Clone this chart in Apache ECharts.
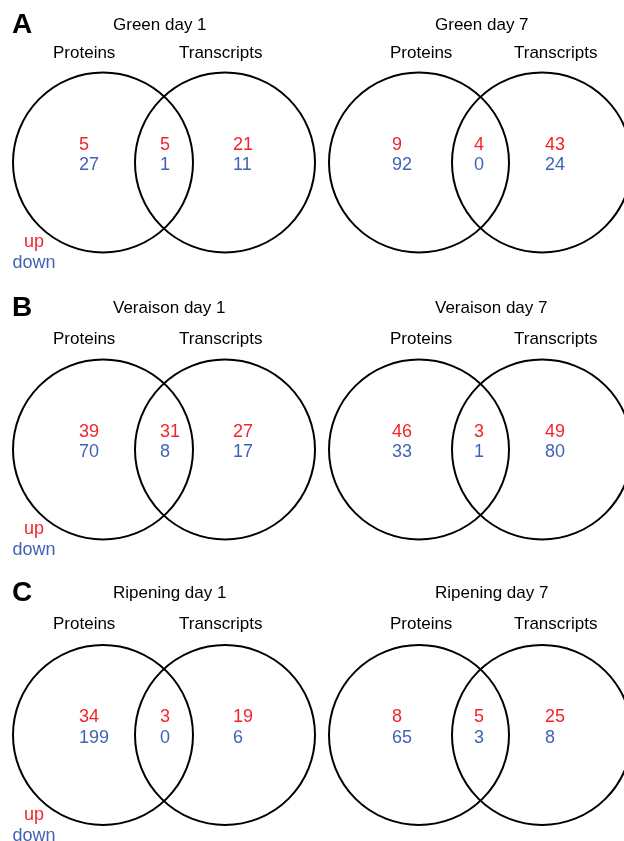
<!DOCTYPE html>
<html>
<head>
<meta charset="utf-8">
<script src="https://cdn.jsdelivr.net/npm/echarts@6/dist/echarts.min.js"></script>
<style>
html,body{margin:0;padding:0;background:#fff;}
#chart{width:624px;height:841px;}
</style>
</head>
<body>
<div id="chart"></div>
<script>
// ---------- DATA ----------
const panelLetters = ['A', 'B', 'C'];
const panelTitles = [
  ['Green day 1', 'Green day 7'],
  ['Veraison day 1', 'Veraison day 7'],
  ['Ripening day 1', 'Ripening day 7']
];
const setNames = ['Proteins', 'Transcripts'];
// [proteins only, shared, transcripts only]
const upCounts = [
  [[5, 5, 21], [9, 4, 43]],
  [[39, 31, 27], [46, 3, 49]],
  [[34, 3, 19], [8, 5, 25]]
];
const downCounts = [
  [[27, 1, 11], [92, 0, 24]],
  [[70, 8, 17], [33, 1, 80]],
  [[199, 0, 6], [65, 3, 8]]
];
const legendLabels = ['up', 'down'];

// ---------- LAYOUT (pixel space of a 624x841 canvas) ----------
const rowCircleY = [162.5, 449.5, 735];
const rowTitleY = [25.5, 308, 593];
const rowSetY = [53.5, 339, 624];
const colCircleX = [[103, 225], [419, 542]];
const colTitleX = [113, 435];
const colSetX = [[53, 179], [390, 514]];
const colNumX = [[79, 160, 233], [392, 474, 545]];
const radius = 90;
const letterX = 12;
const RED = '#f2232b';
const BLUE = '#4163b5';

const circles = [];
const texts = [];
for (let r = 0; r < 3; r++) {
  texts.push({x: letterX, y: rowTitleY[r], text: panelLetters[r], size: 28, weight: 'bold', color: '#000', align: 'left'});
  for (let c = 0; c < 2; c++) {
    circles.push([colCircleX[c][0], rowCircleY[r], radius]);
    circles.push([colCircleX[c][1], rowCircleY[r], radius]);
    texts.push({x: colTitleX[c], y: rowTitleY[r], text: panelTitles[r][c], size: 17, color: '#000', align: 'left'});
    texts.push({x: colSetX[c][0], y: rowSetY[r], text: setNames[0], size: 17, color: '#000', align: 'left'});
    texts.push({x: colSetX[c][1], y: rowSetY[r], text: setNames[1], size: 17, color: '#000', align: 'left'});
    for (let k = 0; k < 3; k++) {
      texts.push({x: colNumX[c][k], y: rowCircleY[r] - 17.5, text: String(upCounts[r][c][k]), size: 18, color: RED, align: 'left'});
      texts.push({x: colNumX[c][k], y: rowCircleY[r] + 3, text: String(downCounts[r][c][k]), size: 18, color: BLUE, align: 'left'});
    }
  }
  texts.push({x: 34, y: rowCircleY[r] + 80, text: legendLabels[0], size: 18, color: RED, align: 'center'});
  texts.push({x: 34, y: rowCircleY[r] + 101, text: legendLabels[1], size: 18, color: BLUE, align: 'center'});
}

const chart = echarts.init(document.getElementById('chart'), null, {renderer: 'canvas'});
chart.setOption({
  animation: false,
  backgroundColor: '#fff',
  grid: {left: 0, right: 0, top: 0, bottom: 0},
  xAxis: {type: 'value', min: 0, max: 624, show: false},
  yAxis: {type: 'value', min: 0, max: 841, inverse: true, show: false},
  series: [
    {
      type: 'custom',
      data: circles,
      clip: false,
      renderItem: function (params, api) {
        const p = api.coord([api.value(0), api.value(1)]);
        const s = api.size([api.value(2), api.value(2)]);
        return {
          type: 'circle',
          shape: {cx: p[0], cy: p[1], r: s[0]},
          style: {fill: 'none', stroke: '#000', lineWidth: 2}
        };
      }
    },
    {
      type: 'custom',
      data: texts.map(t => [t.x, t.y]),
      clip: false,
      renderItem: function (params, api) {
        const t = texts[params.dataIndex];
        const p = api.coord([api.value(0), api.value(1)]);
        return {
          type: 'text',
          x: p[0],
          y: p[1],
          style: {
            text: t.text,
            fill: t.color,
            font: (t.weight || 'normal') + ' ' + t.size + 'px "Liberation Sans", Arial, sans-serif',
            align: t.align,
            verticalAlign: 'middle'
          }
        };
      }
    }
  ]
});
</script>
</body>
</html>
